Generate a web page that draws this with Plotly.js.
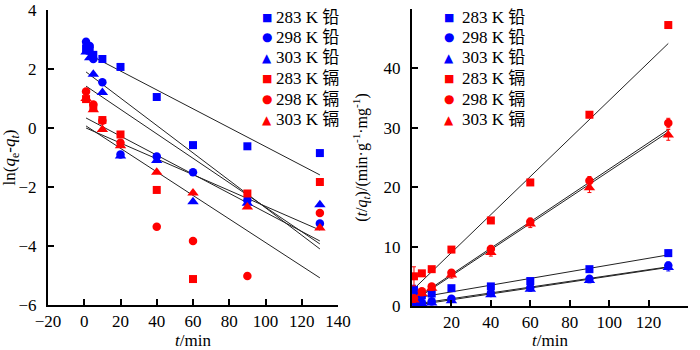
<!DOCTYPE html>
<html>
<head>
<meta charset="utf-8">
<script src="https://cdn.plot.ly/plotly-3.0.1.min.js"></script>
<style>html,body{margin:0;padding:0;background:#fff;}#chart{width:700px;height:350px;}</style>
</head>
<body>
<div id="chart"></div>
<script>
// ---------- data ----------
const seriesNames = ['283 K 铅', '298 K 铅', '303 K 铅', '283 K 镉', '298 K 镉', '303 K 镉'];
const tPb = [1, 3, 5, 10, 20, 40, 60, 90, 130];
const tCd = [1, 5, 10, 20, 40, 60, 90, 130];
const tFit = [1, 130];

// left panel: ln(qe - qt)
const lnPb283 = [2.7, 2.62, 2.48, 2.34, 2.07, 1.05, -0.58, -0.62, -0.85];
const lnPb298 = [2.92, 2.78, 2.34, 1.55, -0.9, -0.97, -1.5, -2.45, -3.24];
const lnPb303 = [2.58, 2.38, 1.82, 1.2, -0.95, -1.1, -2.5, -2.55, -2.6];
const lnCd283 = [0.98, 0.7, 0.27, -0.22, -2.1, -5.12, -2.22, -1.83];
const lnCd298 = [1.24, 0.8, 0.25, -0.5, -3.35, -3.83, -5.02, -2.88];
const lnCd303 = [1.0, 0.62, -0.05, -0.6, -1.5, -2.2, -2.68, -3.39];
const lnFitPb283 = [2.54, -1.59];
const lnFitPb298 = [1.9, -4.1];
const lnFitPb303 = [1.42, -3.93];
const lnFitCd283 = [0.0, -3.46];
const lnFitCd298 = [0.07, -5.08];
const lnFitCd303 = [0.34, -3.83];

// right panel: t/qt
const tqPb283 = [2.7, 2.0, 1.8, 2.1, 3.0, 3.3, 4.2, 6.2, 8.9];
const tqPb298 = [0.8, 0.5, 0.6, 0.8, 1.2, 2.2, 3.1, 4.6, 6.8];
const tqPb303 = [0.5, 0.3, 0.4, 0.5, 0.9, 1.9, 2.8, 4.3, 6.5];
const tqCd283 = [5.0, 5.5, 6.2, 9.5, 14.4, 20.8, 32.2, 47.3];
const tqCd298 = [1.3, 2.5, 3.3, 5.6, 9.6, 14.2, 21.1, 30.8];
const tqCd303 = [1.0, 2.1, 3.0, 5.2, 9.0, 13.8, 19.9, 28.8];
const tqErrPb283 = [0.8, 0.4, 0.3, 0.3, 0.4, 0.4, 0.4, 0.4, 0.5];
const tqErrPb298 = [0.4, 0.3, 0.3, 0.3, 0.3, 0.3, 0.3, 0.4, 0.6];
const tqErrPb303 = [0.4, 0.3, 0.3, 0.3, 0.3, 0.3, 0.3, 0.4, 0.6];
const tqErrCd283 = [1.6, 0.4, 0.4, 0.4, 0.5, 0.5, 0.5, 0.5];
const tqErrCd298 = [0.4, 0.4, 0.4, 0.5, 0.6, 0.6, 0.7, 0.8];
const tqErrCd303 = [0.4, 0.4, 0.4, 0.5, 0.6, 0.6, 0.8, 0.9];
const tqFitPb283 = [1.3, 8.6];
const tqFitPb298 = [0.3, 6.6];
const tqFitPb303 = [0.1, 6.5];
const tqFitCd283 = [2.9, 44.2];
const tqFitCd298 = [1.1, 29.7];
const tqFitCd303 = [0.9, 29.3];

const xTicksLeft = [-20, 0, 20, 40, 60, 80, 100, 120, 140];
const xTicksRight = [20, 40, 60, 80, 100, 120, 140];

// ---------- styles ----------
const BLUE = '#0000ff', RED = '#ff0000';
const colors = [BLUE, BLUE, BLUE, RED, RED, RED];
const symbols = ['square', 'circle', 'triangle-up', 'square', 'circle', 'triangle-up'];
const glyphs = ['\u25A0', '\u25CF', '\u25B2', '\u25A0', '\u25CF', '\u25B2'];
const glyphSizes = [11, 12, 12, 11, 12, 12];
const sizes = [8, 8.5, 10, 8, 8.5, 10];
const FONT = 'Liberation Serif, Times New Roman, Noto Sans CJK SC, serif';

const leftX = [tPb, tPb, tPb, tCd, tCd, tCd];
const leftY = [lnPb283, lnPb298, lnPb303, lnCd283, lnCd298, lnCd303];
const leftFit = [lnFitPb283, lnFitPb298, lnFitPb303, lnFitCd283, lnFitCd298, lnFitCd303];
const rightY = [tqPb283, tqPb298, tqPb303, tqCd283, tqCd298, tqCd303];
const rightErr = [tqErrPb283, tqErrPb298, tqErrPb303, tqErrCd283, tqErrCd298, tqErrCd303];
const rightFit = [tqFitPb283, tqFitPb298, tqFitPb303, tqFitCd283, tqFitCd298, tqFitCd303];

const traces = [];
for (let i = 0; i < 6; i++) {
  traces.push({x: tFit, y: leftFit[i], xaxis: 'x', yaxis: 'y', mode: 'lines',
    line: {color: '#222', width: 1}, showlegend: false, hoverinfo: 'skip'});
  traces.push({x: tFit, y: rightFit[i], xaxis: 'x2', yaxis: 'y2', mode: 'lines',
    line: {color: '#222', width: 1}, showlegend: false, hoverinfo: 'skip'});
}
for (let i = 0; i < 6; i++) {
  traces.push({x: leftX[i], y: leftY[i], xaxis: 'x', yaxis: 'y', mode: 'markers',
    name: seriesNames[i], showlegend: false,
    marker: {color: colors[i], symbol: symbols[i], size: sizes[i]}});
}
for (let i = 0; i < 6; i++) {
  traces.push({x: leftX[i], y: rightY[i], xaxis: 'x2', yaxis: 'y2', mode: 'markers',
    name: seriesNames[i], showlegend: false,
    error_y: {type: 'data', array: rightErr[i], visible: true, color: colors[i], thickness: 1, width: 2},
    marker: {color: colors[i], symbol: symbols[i], size: sizes[i]}});
}

// legend rows drawn as text (key glyph + label), one block per panel
const annotations = [];
const legendBlocks = [{glyphX: 267, textX: 274}, {glyphX: 449, textX: 460}];
const rowTop = 17, rowGap = 20.5;
legendBlocks.forEach(b => {
  for (let i = 0; i < 6; i++) {
    const yc = 1 - (rowTop + i * rowGap) / 350;
    annotations.push({xref: 'paper', yref: 'paper', x: b.glyphX / 700, y: yc,
      xanchor: 'center', yanchor: 'middle', showarrow: false, text: glyphs[i],
      font: {family: 'DejaVu Sans', size: glyphSizes[i], color: colors[i]}});
    annotations.push({xref: 'paper', yref: 'paper', x: b.textX / 700, y: yc,
      xanchor: 'left', yanchor: 'middle', showarrow: false, text: seriesNames[i],
      font: {family: FONT, size: 17, color: '#000'}});
  }
});

const axisCommon = {
  showline: true, linecolor: '#000', linewidth: 2, ticks: 'inside', ticklen: 6,
  tickwidth: 2, tickcolor: '#000', showgrid: false, zeroline: false,
  tickfont: {family: FONT, size: 17, color: '#000'}
};

const layout = {
  width: 700, height: 350,
  margin: {l: 0, r: 0, t: 0, b: 0},
  paper_bgcolor: '#fff', plot_bgcolor: '#fff',
  font: {family: FONT, color: '#000'},
  showlegend: false,
  annotations: annotations,
  xaxis: Object.assign({}, axisCommon, {
    domain: [48 / 700, 338 / 700], range: [-20, 140], tickvals: xTicksLeft, anchor: 'y',
    title: {text: '<i>t</i>/min', font: {family: FONT, size: 17}, standoff: 6}
  }),
  yaxis: Object.assign({}, axisCommon, {
    domain: [45 / 350, 340 / 350], range: [-6, 4], dtick: 2, anchor: 'x',
    ticklabelstandoff: 6,
    title: {text: 'ln(<i>q</i><sub>e</sub>-<i>q</i><sub><i>t</i></sub>)', font: {family: FONT, size: 17}, standoff: 5}
  }),
  xaxis2: Object.assign({}, axisCommon, {
    domain: [412 / 700, 688 / 700], range: [0, 140], tickvals: xTicksRight, anchor: 'y2',
    title: {text: '<i>t</i>/min', font: {family: FONT, size: 17}, standoff: 6}
  }),
  yaxis2: Object.assign({}, axisCommon, {
    domain: [44 / 350, 341 / 350], range: [0, 50], dtick: 10, anchor: 'x2',
    ticklabelstandoff: 6,
    title: {text: '(<i>t</i>/<i>q</i><sub><i>t</i></sub>)/(min·g<sup>-1</sup>·mg<sup>-1</sup>)', font: {family: FONT, size: 16}, standoff: 12}
  })
};

Plotly.newPlot('chart', traces, layout, {displayModeBar: false, staticPlot: true});
</script>
</body>
</html>
